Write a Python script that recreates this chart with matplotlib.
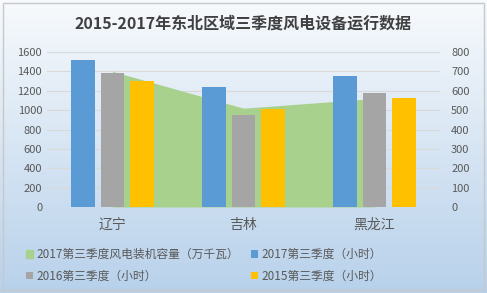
import numpy as np
import matplotlib.pyplot as plt
from matplotlib.patches import Rectangle

plt.rcParams['font.family'] = ['Noto Sans CJK SC', 'DejaVu Sans']

# datos
provincias = ['辽宁', '吉林', '黑龙江']
horas_2017 = [1520, 1240, 1350]
horas_2016 = [1380, 950, 1180]
horas_2015 = [1300, 1010, 1130]
capacidad_2017 = [700, 510, 560]

titulo = '2015-2017年东北区域三季度风电设备运行数据'
leyenda = ['2017第三季度风电装机容量（万千瓦）', '2017第三季度（小时）',
           '2016第三季度（小时）', '2015第三季度（小时）']

c_verde = '#A9D18E'
c_azul = '#5B9BD5'
c_gris = '#A5A5A5'
c_naranja = '#FFC000'
c_texto = '#595959'

fig = plt.figure(figsize=(4.87, 2.93), dpi=100)

# fondo con degradado
bg = fig.add_axes([0, 0, 1, 1])
grad = np.linspace(0, 1, 256).reshape(-1, 1)
top = np.array([0.97, 0.98, 0.99])
bot = np.array([0.72, 0.82, 0.92])
img = top * (1 - grad[:, :, None]) + bot * grad[:, :, None]
bg.imshow(img, aspect='auto', extent=[0, 1, 0, 1])
bg.add_patch(Rectangle((0.006, 0.01), 0.988, 0.98, fill=False, ec='#C8C8C8', lw=1))
bg.set_xlim(0, 1)
bg.set_ylim(0, 1)
bg.axis('off')

ax = fig.add_axes([47/487, 1-207/293, 393/487, 155/293])
ax2 = ax.twinx()
ax.set_zorder(2)
ax2.set_zorder(1)
ax2.patch.set_alpha(0)
ax.patch.set_visible(False)

x = np.arange(len(provincias))
w = 0.18
d = 0.225

# area en el eje derecho
ax2.fill_between(x, 0, capacidad_2017, color=c_verde, lw=0, label=leyenda[0])
ax2.set_ylim(0, 800)
ax2.set_yticks(range(0, 801, 100))

for yv in range(200, 1601, 200):
    ax2.axhline(yv / 2, color='#D9D9D9', lw=0.8, zorder=0)

b1 = ax.bar(x - d, horas_2017, w, color=c_azul, label=leyenda[1])
b2 = ax.bar(x, horas_2016, w, color=c_gris, label=leyenda[2])
b3 = ax.bar(x + d, horas_2015, w, color=c_naranja, label=leyenda[3])
ax.set_ylim(0, 1600)
ax.set_yticks(range(0, 1601, 200))
ax.set_xlim(-0.5, 2.5)
ax.set_xticks(x)
ax.set_xticklabels(provincias, fontsize=10, color=c_texto)

for a in (ax, ax2):
    for s in a.spines.values():
        s.set_visible(False)
    a.tick_params(length=0, labelsize=8, labelcolor=c_texto)
ax.tick_params(axis='x', pad=8, labelsize=10)
ax2.tick_params(axis='y', pad=8)

fig.text(0.5, 0.92, titulo, ha='center', va='center', fontsize=11.5,
         fontweight='bold', color='#404040')

area_h = plt.Rectangle((0, 0), 1, 1, color=c_verde)
# orden por columnas: verde, gris | azul, naranja
handles = [area_h, b2, b1, b3]
etiquetas = [leyenda[0], leyenda[2], leyenda[1], leyenda[3]]
fig.legend(handles, etiquetas, loc='upper left', bbox_to_anchor=(26/487, 1-248/293),
           ncol=2, frameon=False, fontsize=8.5, handlelength=0.6, handleheight=0.6,
           handletextpad=0.3, columnspacing=1.0, labelspacing=0.75,
           borderpad=0, borderaxespad=0, labelcolor=c_texto)

fig.savefig('out.png', dpi=100)
